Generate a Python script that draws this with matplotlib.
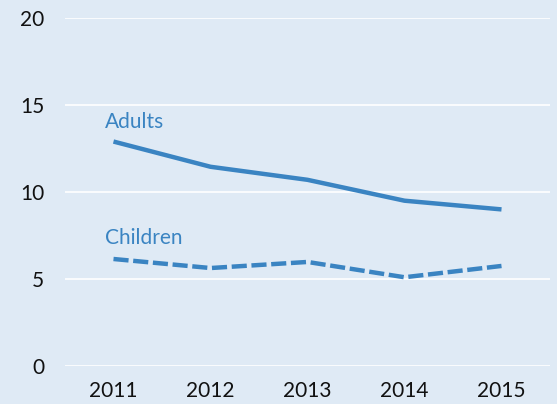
import matplotlib
matplotlib.use("Agg")
import matplotlib.pyplot as plt

years = [2011, 2012, 2013, 2014, 2015]
adults = [12.9, 11.45, 10.7, 9.5, 9.0]
children = [6.15, 5.63, 5.98, 5.1, 5.75]
yticks = [0, 5, 10, 15, 20]

bg = "#dfeaf5"
blue = "#3a84c2"

plt.rcParams["font.family"] = ["Lato", "DejaVu Sans"]
fig = plt.figure(figsize=(5.57, 4.04), dpi=100, facecolor=bg)
ax = fig.add_axes([65/557, 38/404, 485/557, 348/404], facecolor=bg)

ax.plot(years, adults, color=blue, lw=3.2, solid_capstyle="butt", zorder=3)
ax.plot(years, children, color=blue, lw=3.2, dashes=(3.4, 1.05), dash_capstyle="butt", zorder=3)

ax.text(2010.91, 14.0, "Adults", color=blue, fontsize=15, va="center", ha="left")
ax.text(2010.91, 7.36, "Children", color=blue, fontsize=15, va="center", ha="left")

ax.set_xlim(2010.5, 2015.5)
ax.set_ylim(0, 20)
ax.set_yticks(yticks)
ax.set_xticks(years)
ax.set_xticklabels([str(y) for y in years])
ax.grid(axis="y", color="white", lw=1.2, zorder=1)
ax.set_axisbelow(True)
for s in ax.spines.values():
    s.set_visible(False)
ax.tick_params(axis="both", length=0, labelsize=15, colors="#111111")
ax.tick_params(axis="y", pad=15)
ax.tick_params(axis="x", pad=11)

fig.savefig("out.png", dpi=100, facecolor=bg)
